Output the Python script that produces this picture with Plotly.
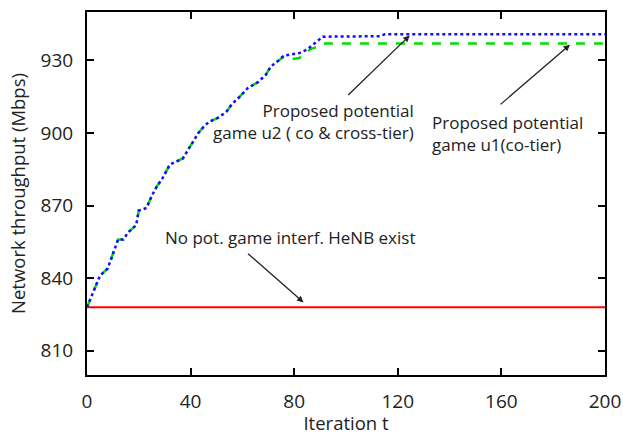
import plotly.graph_objects as go

# Iteration index and network throughput (Mbps) per scheme
t_u2 = [0, 2, 5, 8, 11, 12, 14, 16, 19, 20, 23, 25, 27, 29, 32, 34, 37, 39, 43, 45,
        47, 51, 54, 56, 59, 62, 66, 69, 71, 74, 76, 79, 82, 85, 88, 91, 113, 115, 200]
u2_cross_tier = [828, 833, 841, 844, 853, 856, 856, 859, 862, 868, 869, 874, 878, 881, 887,
                 888, 889.5, 893, 900, 902.5, 904.5, 906.5, 909, 912, 915, 918.5, 921, 924,
                 927.5, 930, 932, 932.5, 933, 934.5, 937, 939.8, 940, 940.8, 940.8]

t_u1 = [0, 2, 5, 8, 11, 12, 14, 16, 19, 20, 23, 25, 27, 29, 32, 34, 37, 39, 43, 45,
        47, 51, 54, 56, 59, 62, 66, 69, 71, 74, 76, 79, 82, 84, 87, 89, 91, 200]
u1_co_tier = [828, 833, 841, 844, 853, 856, 856, 859, 862, 868, 869, 874, 878, 881, 887,
              888, 889.5, 893, 900, 902.5, 904.5, 906.5, 909, 912, 915, 918.5, 921, 924,
              927.5, 930, 931.5, 930.5, 931, 933, 935, 935.5, 937, 937]

t_base = [0, 200]
no_game = [828, 828]

FONT = "Open Sans"
INK = "#222222"
ANN = dict(family=FONT, size=17, color=INK)

fig = go.Figure()
fig.add_trace(go.Scatter(x=t_base, y=no_game, mode="lines",
                         line=dict(color="#ff0000", width=2), showlegend=False))
fig.add_trace(go.Scatter(x=t_u1, y=u1_co_tier, mode="lines",
                         line=dict(color="#00e000", width=2.5, dash="dash"), showlegend=False))
fig.add_trace(go.Scatter(x=t_u2, y=u2_cross_tier, mode="lines",
                         line=dict(color="#1010ff", width=2.5, dash="dot"), showlegend=False))

arrow = dict(showarrow=True, arrowhead=2, arrowsize=1, arrowwidth=1.3,
             arrowcolor=INK, axref="pixel", ayref="pixel", text="")

# u2 label and arrow
fig.add_annotation(x=124.6, y=940.3, ax=-63, ay=61, **arrow)
fig.add_annotation(x=127.0, y=904.9, text="Proposed potential<br>game u2 ( co & cross-tier)",
                   showarrow=False, align="right", xanchor="right", font=ANN)

# u1 label and arrow
fig.add_annotation(x=132.6, y=899.9, text="Proposed potential<br>game u1(co-tier)",
                   showarrow=False, align="left", xanchor="left", font=ANN)
fig.add_annotation(x=186.5, y=936.5, ax=-71, ay=61, **arrow)

# baseline label and arrow
fig.add_annotation(x=78.4, y=857, text="No pot. game interf. HeNB exist",
                   showarrow=False, align="center", font=ANN)
fig.add_annotation(x=83.6, y=830, ax=-57, ay=-50, **arrow)

axis_common = dict(showline=True, linecolor="black", linewidth=2, mirror="ticks",
                   ticks="inside", ticklen=7, tickwidth=2, tickcolor="black",
                   showgrid=False, zeroline=False, automargin=False,
                   tickfont=dict(family=FONT, size=19, color=INK))

fig.update_xaxes(range=[0, 200], tickvals=[0, 40, 80, 120, 160, 200],
                 ticklabelstandoff=8,
                 title=dict(text="Iteration t", standoff=2,
                            font=dict(family=FONT, size=18.5, color=INK)),
                 **axis_common)
fig.update_yaxes(range=[800, 950], tickvals=[810, 840, 870, 900, 930],
                 ticklabelstandoff=8,
                 title=dict(text="Network throughput (Mbps)", standoff=10,
                            font=dict(family=FONT, size=18.5, color=INK)),
                 **axis_common)

fig.update_layout(width=623, height=435, margin=dict(l=87, r=18, t=12, b=60),
                  paper_bgcolor="white", plot_bgcolor="white", showlegend=False)

fig.write_html("out.html")
